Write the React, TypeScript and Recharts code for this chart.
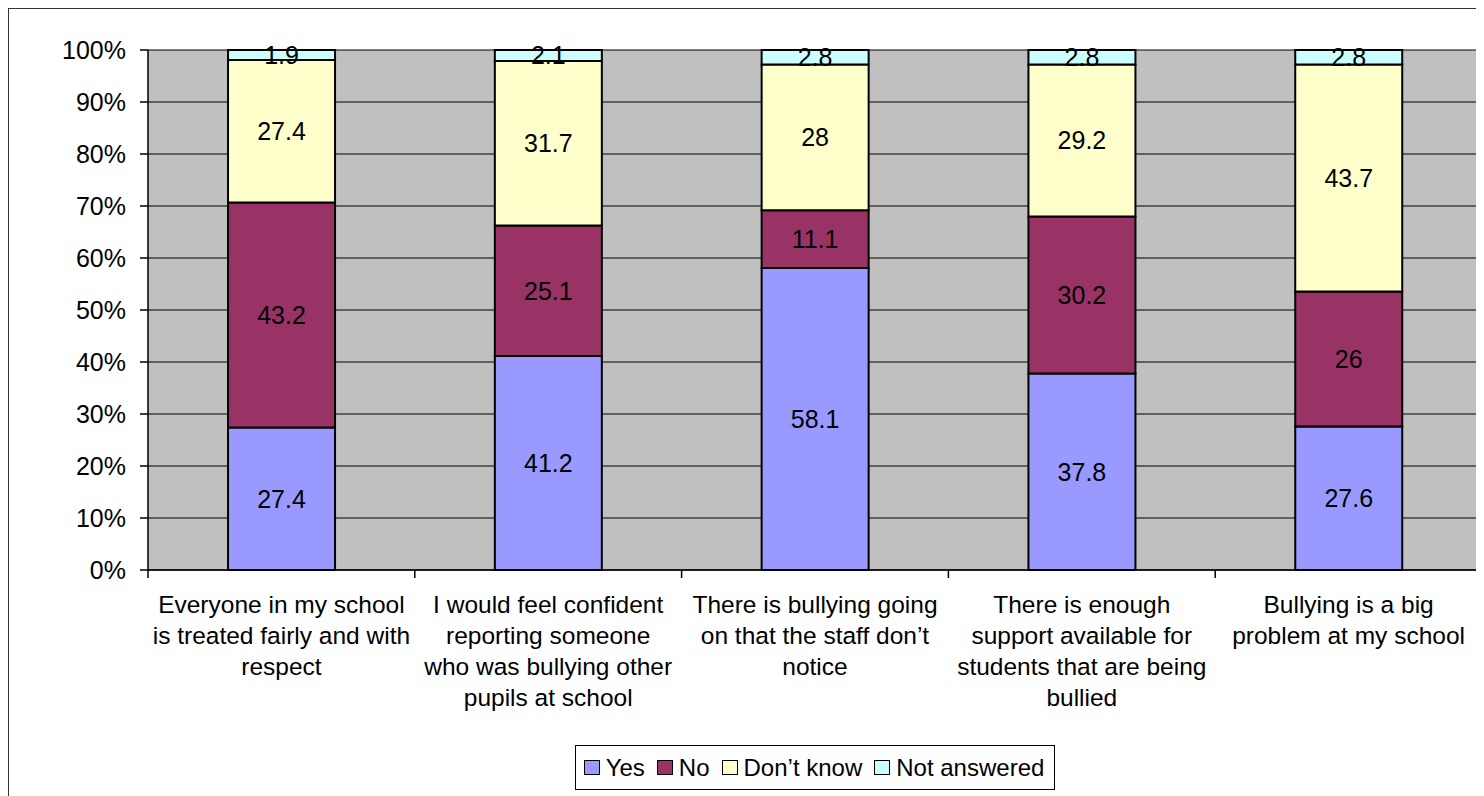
import React from 'react';
import {
  BarChart,
  Bar,
  XAxis,
  YAxis,
  CartesianGrid,
  Legend,
  LabelList,
} from 'recharts';

const categoryLines = [
  ['Everyone in my school', 'is treated fairly and with', 'respect'],
  ['I would feel confident', 'reporting someone', 'who was bullying other', 'pupils at school'],
  ['There is bullying going', 'on that the staff don\u2019t', 'notice'],
  ['There is enough', 'support available for', 'students that are being', 'bullied'],
  ['Bullying is a big', 'problem at my school'],
];

const yesValues = [27.4, 41.2, 58.1, 37.8, 27.6];
const noValues = [43.2, 25.1, 11.1, 30.2, 26];
const dontKnowValues = [27.4, 31.7, 28, 29.2, 43.7];
const notAnsweredValues = [1.9, 2.1, 2.8, 2.8, 2.8];

const yTicks = [0, 0.1, 0.2, 0.3, 0.4, 0.5, 0.6, 0.7, 0.8, 0.9, 1];

const series = [
  { key: 'yes', name: 'Yes', color: '#9999FF' },
  { key: 'no', name: 'No', color: '#993366' },
  { key: 'dontKnow', name: 'Don\u2019t know', color: '#FFFFCC' },
  { key: 'notAnswered', name: 'Not answered', color: '#CCFFFF' },
];

const data = categoryLines.map((lines, i) => ({
  name: lines.join(' '),
  lines,
  yes: yesValues[i],
  no: noValues[i],
  dontKnow: dontKnowValues[i],
  notAnswered: notAnsweredValues[i],
}));

const FONT = '"Liberation Sans", Arial, sans-serif';
const FONT_SIZE = 25;

function CategoryTick(props: any) {
  const { x, y, payload, index, width, visibleTicksCount } = props;
  const count = visibleTicksCount || data.length;
  const band = (width || 1334) / count;
  const lines: string[] = data[index]?.lines || [String(payload.value)];
  const left = x - band / 2;
  const right = x + band / 2;
  return (
    <g>
      <line x1={left} y1={y} x2={left} y2={y + 8} stroke="#000" strokeWidth={1.5} />
      {index === count - 1 && (
        <line x1={right} y1={y} x2={right} y2={y + 8} stroke="#000" strokeWidth={1.5} />
      )}
      <text x={x} y={y + 43} textAnchor="middle" fontFamily={FONT} fontSize={24.5} fill="#000">
        {lines.map((l, i) => (
          <tspan key={i} x={x} dy={i === 0 ? 0 : 31}>
            {l}
          </tspan>
        ))}
      </text>
    </g>
  );
}

function LegendBox() {
  return (
    <div style={{ display: 'flex', justifyContent: 'center' }}>
      <div
        style={{
          display: 'flex',
          alignItems: 'center',
          height: 43,
          border: '1px solid #000',
          padding: '0 10px 0 8px',
          fontFamily: FONT,
          fontSize: 24,
          color: '#000',
          background: '#fff',
        }}
      >
        {series.map((s, i) => (
          <div key={s.key} style={{ display: 'flex', alignItems: 'center', marginLeft: i === 0 ? 0 : 12 }}>
            <span
              style={{
                display: 'inline-block',
                width: 14,
                height: 13,
                background: s.color,
                border: '1.5px solid #000',
                marginRight: 6,
              }}
            />
            <span>{s.name}</span>
          </div>
        ))}
      </div>
    </div>
  );
}

export default function App() {
  return (
    <div
      style={{
        width: 1476,
        height: 788,
        borderTop: '1px solid #333',
        borderLeft: '1px solid #333',
        background: '#fff',
        overflow: 'hidden',
      }}
    >
      <BarChart
        width={1475}
        height={787}
        data={data}
        stackOffset="expand"
        barCategoryGap="30%"
        margin={{ top: 41, right: 1, left: 0, bottom: 6 }}
      >
        <CartesianGrid vertical={false} fill="#C0C0C0" stroke="#000" strokeWidth={1} />
        <XAxis
          dataKey="name"
          interval={0}
          height={175}
          tickLine={false}
          tickSize={0}
          tickMargin={0}
          axisLine={{ stroke: '#000', strokeWidth: 1.5 }}
          tick={<CategoryTick />}
        />
        <YAxis
          width={139}
          domain={[0, 1]}
          ticks={yTicks}
          interval={0}
          tickSize={8}
          tickMargin={14}
          axisLine={{ stroke: '#000', strokeWidth: 1.5 }}
          tickLine={{ stroke: '#000', strokeWidth: 1.5 }}
          tick={{ fill: '#000', fontSize: FONT_SIZE, fontFamily: FONT }}
          tickFormatter={(v: number) => `${Math.round(v * 100)}%`}
        />
        <YAxis
          yAxisId="right"
          orientation="right"
          width={1}
          domain={[0, 1]}
          tick={false}
          tickLine={false}
          axisLine={{ stroke: '#808080', strokeWidth: 2 }}
        />
        <Legend verticalAlign="bottom" wrapperStyle={{ left: 139, width: 1334 }} content={<LegendBox />} />
        {series.map((s) => (
          <Bar
            key={s.key}
            dataKey={s.key}
            name={s.name}
            stackId="a"
            fill={s.color}
            stroke="#000"
            strokeWidth={2}
            isAnimationActive={false}
          >
            <LabelList
              dataKey={s.key}
              position="center"
              fill="#000"
              fontSize={FONT_SIZE}
              fontFamily={FONT}
            />
          </Bar>
        ))}
      </BarChart>
    </div>
  );
}
